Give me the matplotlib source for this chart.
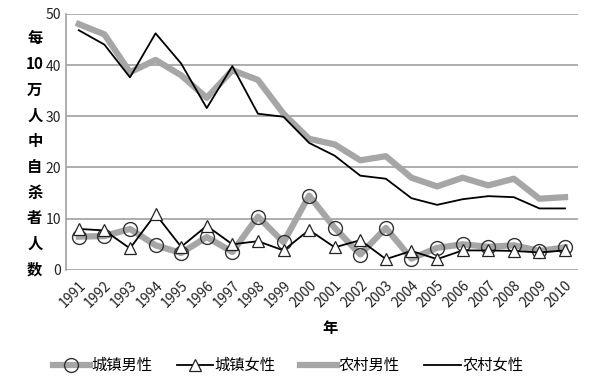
import numpy as np
import matplotlib.pyplot as plt

plt.rcParams['font.family'] = ['Noto Sans CJK SC', 'DejaVu Sans']

# 年份
years = [str(y) for y in range(1991, 2011)]

# 每10万人中自杀者人数
urban_male = [6.5, 6.6, 8.0, 4.8, 3.3, 6.4, 3.5, 10.4, 5.4, 14.5, 8.2, 3.0, 8.2, 2.2, 4.3, 5.0, 4.5, 4.8, 3.7, 4.4]
urban_female = [8.0, 7.7, 4.2, 10.9, 4.5, 8.6, 5.0, 5.6, 3.8, 7.8, 4.4, 5.8, 2.1, 3.7, 2.1, 3.8, 3.8, 3.7, 3.4, 3.8]
rural_male = [48.0, 46.0, 38.6, 41.0, 38.0, 33.6, 39.0, 37.1, 30.5, 25.6, 24.5, 21.4, 22.2, 18.0, 16.3, 18.0, 16.5, 17.8, 13.9, 14.2]
rural_female = [46.8, 44.0, 37.6, 46.2, 40.3, 31.6, 39.8, 30.5, 29.9, 24.8, 22.3, 18.4, 17.8, 14.0, 12.7, 13.8, 14.4, 14.2, 12.0, 12.0]

grey = '#a6a6a6'
x = np.arange(len(years))

fig = plt.figure(figsize=(6, 3.85), dpi=100)
ax = fig.add_axes([0.11, 0.299, 0.853, 0.665])

ax.plot(x, urban_male, color=grey, lw=4.5, marker='o', ms=10,
        mfc='none', mec='#333333', mew=1.0, label='城镇男性', zorder=3)
ax.plot(x, urban_female, color='black', lw=1.3, marker='^', ms=9,
        mfc='white', mec='#222222', mew=0.9, label='城镇女性', zorder=4)
ax.plot(x, rural_male, color=grey, lw=4.5, label='农村男性', zorder=3)
ax.plot(x, rural_female, color='black', lw=1.3, label='农村女性', zorder=4)

ax.set_xlim(-0.5, len(years) - 0.5)
ax.set_ylim(0, 50)
ax.set_yticks([0, 10, 20, 30, 40, 50])
ax.set_xticks(x)
ax.set_xticklabels(years, rotation=45, ha='right', rotation_mode='anchor')
ax.tick_params(axis='both', length=0, labelsize=10, colors='#222222')
ax.tick_params(axis='x', pad=6)
ax.grid(axis='y', color='#a0a0a0', lw=1.2)
ax.set_axisbelow(True)
for s in ['top', 'right', 'bottom']:
    ax.spines[s].set_visible(False)
ax.spines['left'].set_color('#a0a0a0')
ax.spines['left'].set_linewidth(1.2)

# 纵轴标题（竖排）
fig.text(0.058, 0.6, '每\n10\n万\n人\n中\n自\n杀\n者\n人\n数', ha='center', va='center',
         fontsize=11, fontweight='bold', linespacing=1.75)
fig.text(0.55, 0.148, '年', ha='center', va='center', fontsize=11, fontweight='bold')

fig.legend(loc='center', bbox_to_anchor=(0.48, 0.05), ncol=4, frameon=False,
           fontsize=11, handlelength=2.4, columnspacing=1.6, handletextpad=0.1)

fig.savefig('out.png', dpi=100)
